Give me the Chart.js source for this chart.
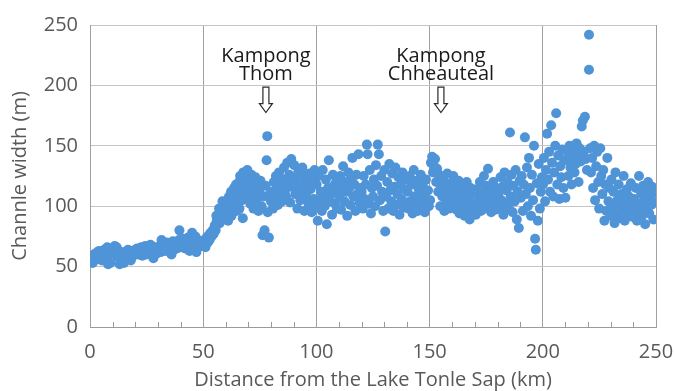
<!DOCTYPE html>
<html>
<head>
<meta charset="utf-8">
<script src="https://cdn.jsdelivr.net/npm/chart.js@4.4.0/dist/chart.umd.min.js"></script>
<style>
  body { margin: 0; background: #fff; }
  #wrap { width: 675px; height: 391px; }
</style>
</head>
<body>
<div id="wrap"><canvas id="widthChart" width="675" height="391"></canvas></div>
<script>
// distance along the river (km) and channel width (m)
const distanceKm = [
    0.3, 0.8, 1.2, 1.7, 2.1, 2.6, 3.0, 3.5, 4.0, 4.4, 4.9, 5.3, 5.8, 6.3, 6.7, 7.2, 7.6, 8.1, 8.6, 9.0, 9.5, 9.9,
    10.4, 10.9, 11.3, 11.8, 12.2, 12.7, 13.1, 13.6, 14.0, 14.5, 15.0, 15.4, 15.9, 16.3, 16.8, 17.2, 17.7, 18.1, 18.6, 19.1, 19.5, 19.9,
    20.4, 20.8, 21.3, 21.7, 22.2, 22.6, 23.1, 23.5, 24.0, 24.4, 24.9, 25.3, 25.8, 26.2, 26.7, 27.1, 27.6, 28.0, 28.5, 28.9, 29.4, 29.8,
    30.3, 30.7, 31.2, 31.6, 32.1, 32.5, 33.0, 33.4, 33.9, 34.3, 34.8, 35.2, 35.7, 36.1, 36.6, 37.0, 37.5, 37.9, 38.4, 38.8, 39.3, 39.5, 39.7,
    40.2, 40.6, 41.1, 41.5, 42.0, 42.4, 42.9, 43.3, 43.8, 44.2, 44.7, 45.1, 45.6, 46.0, 46.5, 46.9, 47.4, 47.8, 48.3, 48.7, 49.2, 49.6,
    50.1, 50.6, 51.0, 51.5, 51.9, 52.4, 52.8, 53.3, 53.7, 54.2, 54.6, 55.1, 55.5, 56.0, 56.4, 56.9, 57.3, 57.8, 58.2, 58.7, 59.1, 59.6,
    60.0, 60.5, 60.9, 61.4, 61.8, 62.3, 62.7, 63.2, 63.6, 64.1, 64.5, 65.0, 65.4, 65.9, 66.3, 66.8, 67.2, 67.7, 68.1, 68.6, 69.0, 69.5, 69.9,
    70.4, 70.8, 71.3, 71.7, 72.2, 72.6, 73.1, 73.5, 74.0, 74.4, 74.9, 75.3, 75.8, 76.2, 76.7, 77.1, 77.6, 78.0, 78.3, 78.5, 79.0, 79.4, 79.9,
    80.3, 80.8, 81.2, 81.7, 82.1, 82.6, 83.0, 83.5, 83.9, 84.4, 84.8, 85.3, 85.7, 86.2, 86.6, 87.1, 87.5, 88.0, 88.4, 88.9, 89.3, 89.8,
    90.2, 90.7, 91.1, 91.6, 92.0, 92.5, 92.9, 93.4, 93.8, 94.3, 94.7, 95.2, 95.6, 96.1, 96.5, 97.0, 97.4, 97.9, 98.3, 98.8, 99.2, 99.7,
    100.1, 100.6, 101.0, 101.5, 101.9, 102.4, 102.8, 103.3, 103.7, 104.2, 104.6, 105.1, 105.5, 106.0, 106.4, 106.9, 107.3, 107.8, 108.2, 108.7, 109.1, 109.6,
    110.0, 110.5, 110.9, 111.4, 111.8, 112.3, 112.7, 113.2, 113.6, 114.1, 114.5, 115.0, 115.4, 115.9, 116.3, 116.8, 117.2, 117.7, 118.1, 118.6, 119.0, 119.5,
    120.0, 120.5, 120.9, 121.4, 121.8, 122.3, 122.6, 123.2, 123.6, 124.1, 124.5, 125.0, 125.4, 125.9, 126.3, 126.8, 127.1, 127.6, 128.1, 128.6, 129.0, 129.5,
    130.0, 130.4, 130.8, 131.3, 131.7, 132.2, 132.6, 133.1, 133.5, 134.0, 134.4, 134.9, 135.3, 135.8, 136.2, 136.7, 137.1, 137.6, 138.0, 138.5, 138.9, 139.4, 139.8,
    140.3, 140.7, 141.2, 141.6, 142.1, 142.5, 143.0, 143.4, 143.9, 144.3, 144.8, 145.2, 145.7, 146.1, 146.6, 147.0, 147.5, 147.9, 148.4, 148.8, 149.3, 149.7,
    150.2, 150.6, 151.1, 151.5, 152.0, 152.4, 152.9, 153.3, 153.8, 154.2, 154.7, 155.1, 155.6, 156.0, 156.5, 156.9, 157.4, 157.8, 158.3, 158.7, 159.2, 159.6,
    160.1, 160.5, 161.0, 161.4, 161.9, 162.3, 162.8, 163.2, 163.7, 164.1, 164.6, 165.0, 165.5, 165.9, 166.4, 166.8, 167.3, 167.7, 168.2, 168.6, 169.1, 169.5,
    170.0, 170.4, 170.9, 171.3, 171.8, 172.2, 172.7, 173.1, 173.6, 174.0, 174.5, 174.9, 175.4, 175.8, 176.3, 176.7, 177.2, 177.6, 178.1, 178.5, 179.0, 179.4, 179.9,
    180.4, 180.8, 181.3, 181.7, 182.2, 182.6, 183.1, 183.5, 184.0, 184.4, 184.9, 185.5, 185.8, 186.2, 186.7, 187.1, 187.6, 188.0, 188.5, 188.9, 189.4, 189.8,
    190.3, 190.7, 191.2, 191.6, 192.1, 192.5, 193.0, 193.4, 193.9, 194.3, 194.8, 195.2, 195.7, 196.1, 196.6, 196.9, 197.3, 197.8, 198.2, 198.7, 199.1, 199.6,
    200.1, 200.5, 201.0, 201.4, 201.9, 202.3, 202.8, 203.2, 203.7, 204.1, 204.6, 205.0, 205.5, 205.9, 206.4, 206.8, 207.3, 207.7, 208.2, 208.6, 209.1, 209.5,
    210.0, 210.4, 210.9, 211.3, 211.8, 212.2, 212.7, 213.1, 213.6, 214.0, 214.5, 214.9, 215.4, 215.8, 216.3, 216.7, 217.2, 217.7, 218.1, 218.6, 219.0, 219.5, 220.4, 220.4,
    220.9, 221.3, 221.8, 222.2, 222.7, 223.1, 223.6, 224.0, 224.5, 224.9, 225.4, 225.8, 226.3, 226.7, 227.2, 227.6, 228.1, 228.5, 229.0, 229.4, 229.9,
    230.3, 230.8, 231.2, 231.7, 232.1, 232.6, 233.0, 233.5, 233.9, 234.4, 234.8, 235.3, 235.7, 236.2, 236.6, 237.1, 237.5, 238.0, 238.4, 238.9, 239.3, 239.8,
    240.2, 240.7, 241.1, 241.6, 242.0, 242.5, 242.9, 243.4, 243.8, 244.3, 244.7, 245.2, 245.6, 246.1, 246.5, 247.0, 247.4, 247.9, 248.3, 248.8, 249.2, 249.7,
    55.8, 57.0, 58.5, 61.0, 62.5, 64.8, 66.0, 67.5, 52.0, 47.0, 44.0, 36.0, 28.0, 18.0, 8.0, 3.5
];

const widthM = [
    55, 58, 53, 60, 57, 61, 56, 59, 63, 58, 62, 55, 60, 64, 57, 62, 66, 59, 63, 53, 61, 65,
    64, 67, 60, 66, 58, 63, 52, 55, 61, 57, 53, 62, 58, 60, 64, 59, 62, 61, 58, 63, 60, 64,
    62, 65, 60, 63, 61, 66, 59, 64, 62, 67, 60, 63, 65, 61, 68, 62, 64, 60, 66, 63, 65, 61,
    64, 67, 62, 72, 66, 69, 63, 65, 70, 64, 67, 62, 68, 66, 71, 64, 69, 67, 65, 70, 72, 80, 68,
    66, 70, 73, 68, 65, 71, 67, 74, 69, 66, 72, 78, 70, 67, 75, 69, 66, 72, 68, 71, 67, 70,
    68, 72, 66, 74, 70, 76, 72, 78, 75, 80, 77, 84, 80, 88, 85, 90, 86, 94, 89, 97, 92, 100,
    95, 104, 99, 108, 93, 112, 102, 97, 115, 106, 118, 110, 100, 120, 125, 113, 105, 128, 117, 122, 108, 130, 112,
    120, 102, 126, 110, 98, 115, 124, 105, 118, 96, 112, 121, 100, 76, 108, 80, 117, 138, 158, 95, 74, 110, 104,
    112, 98, 120, 106, 125, 115, 101, 128, 110, 118, 104, 122, 132, 113, 108, 136, 119, 126, 103, 139, 116, 124,
    134, 110, 122, 98, 128, 115, 105, 120, 132, 112, 96, 125, 108, 118, 102, 127, 114, 95, 122, 106, 130, 100,
    118, 88, 125, 105, 112, 96, 130, 108, 100, 122, 85, 115, 138, 104, 110, 93, 126, 117, 102, 120, 98, 113,
    108, 125, 97, 116, 133, 104, 120, 112, 92, 128, 115, 101, 122, 140, 108, 118, 96, 126, 110, 143, 103, 115,
    112, 98, 125, 106, 118, 151, 143, 102, 130, 94, 115, 108, 122, 100, 134, 117, 151, 143, 105, 125, 112, 96,
    130, 79, 108, 120, 98, 135, 113, 104, 127, 96, 116, 132, 101, 110, 124, 93, 118, 106, 128, 99, 114, 122, 103,
    112, 98, 125, 104, 118, 94, 130, 108, 101, 121, 96, 114, 106, 126, 99, 117, 109, 95, 122, 103, 113, 100,
    105, 136, 141, 128, 133, 139, 120, 131, 112, 126, 100, 118, 108, 122, 96, 115, 104, 127, 110, 98, 119, 106,
    114, 125, 102, 118, 97, 109, 121, 94, 112, 104, 116, 100, 92, 110, 120, 98, 106, 89, 115, 103, 96, 111,
    102, 93, 114, 99, 108, 120, 96, 111, 104, 125, 98, 117, 107, 131, 101, 113, 95, 109, 120, 103, 97, 115, 106,
    110, 98, 124, 105, 116, 93, 128, 102, 113, 120, 99, 161, 108, 126, 95, 117, 104, 130, 89, 112, 82, 121,
    107, 125, 96, 118, 157, 110, 132, 100, 140, 115, 92, 126, 105, 150, 73, 64, 119, 88, 135, 98, 112, 124,
    118, 140, 104, 130, 160, 122, 145, 112, 167, 136, 108, 128, 150, 177, 118, 142, 106, 133, 124, 147, 115, 138,
    107, 138, 145, 125, 150, 132, 118, 147, 140, 128, 135, 152, 143, 120, 148, 137, 166, 171, 145, 174, 139, 130, 242, 213,
    148, 128, 140, 115, 150, 105, 133, 145, 120, 98, 148, 125, 110, 130, 88, 118, 96, 140, 104, 115, 92,
    122, 100, 112, 86, 128, 95, 105, 118, 90, 101, 110, 97, 125, 88, 104, 114, 94, 108, 99, 119, 103, 91,
    106, 96, 115, 88, 102, 125, 99, 110, 92, 117, 104, 85, 112, 98, 120, 94, 108, 101, 116, 89, 111, 103,
    92, 98, 104, 88, 92, 96, 98, 90, 70, 62, 63, 60, 57, 55, 52, 62
];

const xTicks = [0, 50, 100, 150, 200, 250];
const yTicks = [0, 50, 100, 150, 200, 250];
const minorKm = [10, 20, 30, 40, 60, 70, 80, 90, 110, 120, 130, 140, 160, 170, 180, 190, 210, 220, 230, 240];

// town markers: label lines, position along the river
const townNames = [['Kampong', 'Thom'], ['Kampong', 'Chheauteal']];
const townKm = [77.7, 155.0];

const pointColor = '#5094d8';
const gray = '#595959';

const townMarkers = {
    id: 'townMarkers',
    afterDatasetsDraw(chart) {
        const { ctx, scales: { x, y } } = chart;
        ctx.save();
        // minor ticks on the distance axis
        ctx.strokeStyle = '#9a9a9a';
        ctx.lineWidth = 1;
        minorKm.forEach(v => {
            const px = Math.round(x.getPixelForValue(v)) + 0.5;
            ctx.beginPath();
            ctx.moveTo(px, y.bottom);
            ctx.lineTo(px, y.bottom - 5);
            ctx.stroke();
        });

        ctx.font = '500 20px "Open Sans"';
        ctx.textAlign = 'center';
        ctx.textBaseline = 'alphabetic';
        townNames.forEach((lines, i) => {
            const cx = x.getPixelForValue(townKm[i]);
            ctx.fillStyle = '#1a1a1a';
            ctx.fillText(lines[0], cx, y.getPixelForValue(219.5));
            ctx.fillText(lines[1], cx, y.getPixelForValue(204.5));

            // hollow arrow pointing down
            const top = y.getPixelForValue(198.5);
            const bot = y.getPixelForValue(177.5);
            const neck = bot - 9;
            ctx.beginPath();
            ctx.moveTo(cx - 3, top);
            ctx.lineTo(cx + 3, top);
            ctx.lineTo(cx + 3, neck);
            ctx.lineTo(cx + 6.5, neck);
            ctx.lineTo(cx, bot);
            ctx.lineTo(cx - 6.5, neck);
            ctx.lineTo(cx - 3, neck);
            ctx.closePath();
            ctx.fillStyle = '#fff';
            ctx.fill();
            ctx.strokeStyle = '#2a2a2a';
            ctx.lineWidth = 1.2;
            ctx.stroke();
        });
        ctx.restore();
    }
};

const ctx = document.getElementById('widthChart');

new Chart(ctx, {
    type: 'scatter',
    data: {
        datasets: [{
            data: distanceKm.map((d, i) => ({ x: d, y: widthM[i] })),
            backgroundColor: pointColor,
            borderColor: pointColor,
            borderWidth: 0,
            pointRadius: 5,
        }]
    },
    options: {
        responsive: false,
        animation: false,
        events: [],
        layout: { padding: { top: 25, right: 19, left: 0, bottom: 0 } },
        plugins: {
            legend: { display: false },
            tooltip: { enabled: false }
        },
        scales: {
            x: {
                type: 'linear',
                min: 0,
                max: 250,
                afterBuildTicks: s => { s.ticks = xTicks.map(v => ({ value: v })); },
                afterFit: s => { s.height = 64; s.paddingLeft = 0; s.paddingRight = 0; },
                grid: { color: '#a0a0a0', drawTicks: false },
                border: { color: '#9a9a9a' },
                ticks: {
                    color: gray,
                    padding: 13,
                    font: { family: 'Open Sans', size: 20 },
                    maxRotation: 0
                },
                title: {
                    display: true,
                    text: 'Distance from the Lake Tonle Sap (km)',
                    color: gray,
                    font: { family: 'Open Sans', size: 20, lineHeight: 1.1 },
                    padding: { top: 0, bottom: 0 }
                }
            },
            y: {
                type: 'linear',
                min: 0,
                max: 250,
                afterBuildTicks: s => { s.ticks = yTicks.map(v => ({ value: v })); },
                afterFit: s => { s.width = 90; s.paddingTop = 0; s.paddingBottom = 0; },
                grid: { color: '#c4c4c4', drawTicks: false },
                border: { color: '#a0a0a0' },
                ticks: {
                    color: gray,
                    padding: 12,
                    font: { family: 'Open Sans', size: 20 }
                },
                title: {
                    display: true,
                    text: 'Channle width (m)',
                    color: gray,
                    font: { family: 'Open Sans', size: 20, lineHeight: 1.2 },
                    padding: { top: 8, bottom: 0 }
                }
            }
        }
    },
    plugins: [townMarkers]
});
</script>
</body>
</html>
